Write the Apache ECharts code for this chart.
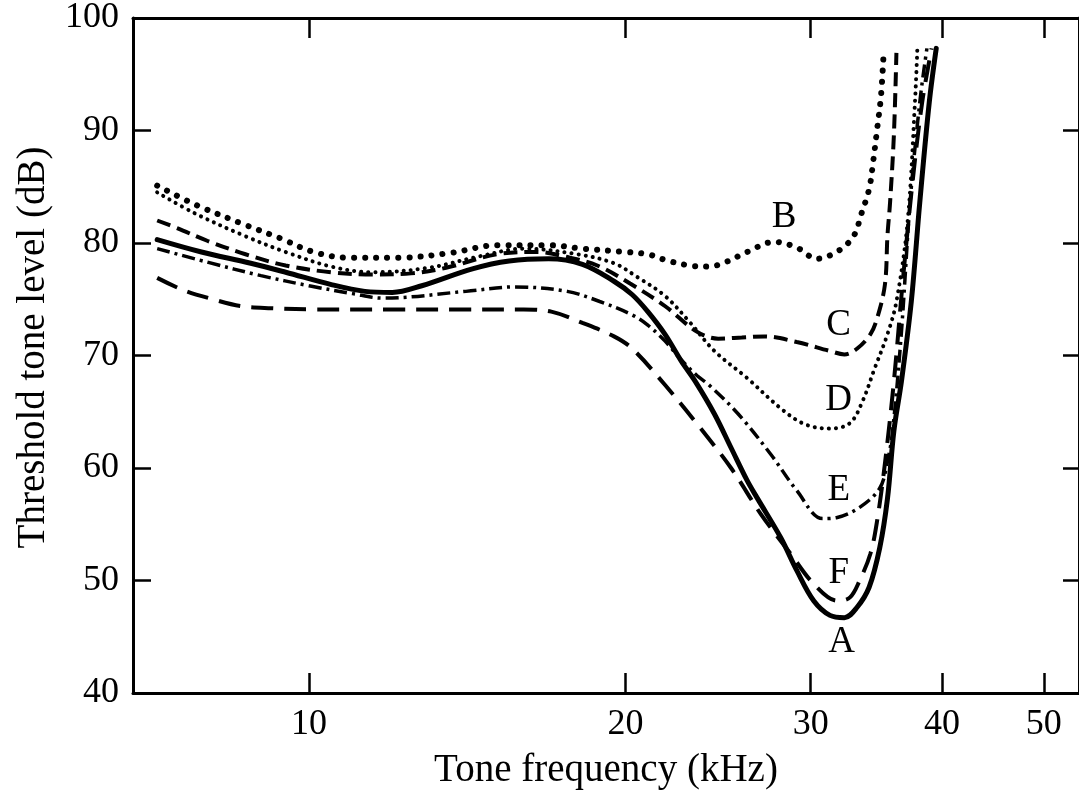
<!DOCTYPE html>
<html>
<head>
<meta charset="utf-8">
<script src="https://cdn.jsdelivr.net/npm/echarts@6/dist/echarts.min.js"></script>
<style>
html,body{margin:0;padding:0;background:#fff;}
#chart{width:1079px;height:798px;}
</style>
</head>
<body>
<div id="chart"></div>
<script>
// Tick labels
var xTicks = [10, 20, 30, 40, 50];
var yTicks = [40, 50, 60, 70, 80, 90, 100];

// Curves: [frequency kHz, threshold dB]
var curveA = [[7.17,80.3],[7.9,79.2],[8.8,78.2],[9.5,77.4],[10.5,76.3],[11.3,75.7],[12.0,75.6],[12.8,76.2],[14.3,77.7],[15.5,78.4],[16.9,78.6],[18.2,78.1],[19.5,76.6],[20.3,75.4],[21.0,73.9],[21.8,71.9],[22.6,69.5],[23.3,67.7],[24.3,64.8],[25.2,61.8],[26.1,58.9],[26.7,57.3],[28.1,53.8],[29.1,50.9],[30.2,48.2],[31.3,46.9],[32.3,46.7],[33.2,47.6],[34.1,49.4],[34.9,52.9],[35.5,57.3],[36.0,63.3],[36.6,67.7],[37.4,74.8],[38.1,83.6],[38.9,92.5],[39.5,97.3]];
var curveB = [[7.17,85.1],[7.8,83.4],[8.7,81.6],[9.4,80.4],[10.1,79.2],[10.9,78.7],[12.2,78.7],[13.6,79.1],[15.1,79.8],[16.9,79.8],[18.2,79.5],[20.0,79.2],[21.0,79.0],[21.8,78.5],[23.0,78.0],[24.0,77.9],[24.9,78.3],[26.1,79.2],[27.7,80.1],[29.1,79.6],[30.4,78.6],[32.0,79.4],[33.0,80.7],[33.5,82.5],[34.1,84.8],[34.4,87.2],[34.7,90.1],[35.0,93.1],[35.2,96.9]];
var curveC = [[7.17,82.0],[7.5,81.3],[8.0,80.2],[8.7,79.0],[9.5,78.0],[10.5,77.4],[11.5,77.2],[12.5,77.3],[13.5,77.8],[15.1,79.0],[16.5,79.2],[17.5,78.8],[18.8,78.0],[20.2,76.4],[21.8,74.4],[23.4,72.1],[24.5,71.5],[25.8,71.6],[27.1,71.7],[29.1,71.2],[31.3,70.4],[32.3,70.1],[33.2,70.6],[34.2,71.9],[34.7,73.3],[35.3,76.3],[35.5,80.7],[35.7,83.6],[36.0,89.6],[36.2,96.9]];
var curveD = [[7.17,84.5],[7.8,82.6],[8.7,80.6],[9.5,79.2],[10.5,77.9],[11.5,77.4],[13.0,77.8],[14.5,78.8],[16.0,79.5],[18.0,79.0],[19.5,78.2],[20.5,77.0],[21.8,75.3],[23.0,73.0],[24.3,70.4],[26.1,68.0],[28.1,65.3],[29.6,63.9],[31.3,63.5],[32.7,64.0],[33.6,65.9],[34.5,68.8],[35.5,71.9],[36.2,74.8],[37.1,81.9],[37.7,92.5],[37.9,97.3]];
var curveE = [[7.17,79.5],[8.0,78.3],[9.0,77.1],[10.0,76.2],[11.0,75.5],[11.75,75.1],[14.1,75.7],[15.7,76.1],[17.6,75.7],[18.9,74.8],[20.3,73.6],[21.0,72.7],[21.8,71.3],[22.6,69.6],[23.4,68.2],[24.0,67.4],[25.6,64.8],[27.5,61.2],[29.1,58.0],[30.8,55.5],[31.8,55.6],[33.4,56.5],[34.9,58.2],[35.5,60.6],[35.9,63.3],[36.6,72.1],[37.3,83.6],[38.1,92.5],[38.7,97.3]];
var curveF = [[7.17,76.9],[7.6,75.8],[8.1,75.0],[8.6,74.4],[9.2,74.2],[10.0,74.1],[12.0,74.1],[14.0,74.1],[16.0,74.1],[17.0,73.9],[18.2,72.9],[19.5,71.7],[20.3,70.6],[21.8,67.4],[23.4,63.9],[25.2,60.0],[26.9,55.9],[28.7,52.4],[30.2,49.7],[31.8,48.2],[32.7,48.5],[33.4,50.0],[34.2,52.4],[34.7,55.3],[35.3,60.4],[36.0,67.7],[36.7,76.5],[37.5,85.4],[38.3,92.5],[39.1,97.3]];

// Curve letters: [text, frequency, dB]
var curveLabels = [['B',28.3,82.3],['C',31.9,72.7],['D',31.9,66.0],['E',31.9,58.0],['F',31.9,50.6],['A',32.1,44.5]];

var FONT = '"Liberation Serif", "DejaVu Serif", serif';
var INK = '#000';

function lineSeries(data, style) {
  return {
    type: 'line',
    data: data,
    smooth: 0.35,
    showSymbol: false,
    symbol: 'none',
    clip: true,
    lineStyle: Object.assign({color: INK, opacity: 1}, style),
    z: 3
  };
}

var chart = echarts.init(document.getElementById('chart'), null, {renderer: 'canvas'});
var option = {
  backgroundColor: '#fff',
  animation: false,
  grid: {left: 133, top: 15, width: 948, height: 678, containLabel: false},
  xAxis: [{
    type: 'log', logBase: 10, min: 6.8, max: 54,
    name: 'Tone frequency (kHz)', nameLocation: 'middle', nameGap: 58,
    nameTextStyle: {fontFamily: FONT, fontSize: 39, color: INK},
    axisLine: {show: true, onZero: false, lineStyle: {color: INK, width: 3}},
    axisTick: {show: true, inside: true, length: 20, lineStyle: {color: INK, width: 2.5}, customValues: xTicks},
    axisLabel: {show: true, fontFamily: FONT, fontSize: 36, color: INK, margin: 14, customValues: xTicks, formatter: function (v) { return String(Math.round(v)); }},
    minorTick: {show: false},
    splitLine: {show: false}
  }, {
    type: 'log', logBase: 10, min: 6.8, max: 54, position: 'top',
    axisLine: {show: true, onZero: false, lineStyle: {color: INK, width: 3}},
    axisTick: {show: true, inside: true, length: 20, lineStyle: {color: INK, width: 2.5}, customValues: xTicks},
    axisLabel: {show: false},
    splitLine: {show: false}
  }],
  yAxis: [{
    type: 'value', min: 40, max: 100, interval: 10,
    name: 'Threshold tone level (dB)', nameLocation: 'middle', nameGap: 80, nameRotate: 90,
    nameTextStyle: {fontFamily: FONT, fontSize: 39, color: INK, padding: [0, 0, 0, 16]},
    axisLine: {show: true, onZero: false, lineStyle: {color: INK, width: 3}},
    axisTick: {show: true, inside: true, length: 18, lineStyle: {color: INK, width: 2.5}},
    axisLabel: {show: true, fontFamily: FONT, fontSize: 36, color: INK, margin: 14},
    splitLine: {show: false}
  }, {
    type: 'value', min: 40, max: 100, interval: 10, position: 'right',
    axisLine: {show: true, onZero: false, lineStyle: {color: INK, width: 3}},
    axisTick: {show: true, inside: true, length: 16, lineStyle: {color: INK, width: 2.5}},
    axisLabel: {show: false},
    splitLine: {show: false}
  }],
  series: [
    lineSeries(curveF, {width: 4, type: [22, 11], cap: 'butt'}),
    lineSeries(curveE, {width: 3.5, type: [13, 5, 3, 5], cap: 'butt'}),
    lineSeries(curveD, {width: 4, type: [0.1, 7], cap: 'round'}),
    lineSeries(curveC, {width: 4, type: [14, 7], cap: 'butt'}),
    lineSeries(curveB, {width: 6, type: [0.1, 11], cap: 'round'}),
    lineSeries(curveA, {width: 5, type: 'solid', cap: 'round'}),
    {
      type: 'scatter',
      data: curveLabels.map(function (d) { return {value: [d[1], d[2]], name: d[0]}; }),
      symbolSize: 1,
      silent: true,
      z: 5,
      itemStyle: {opacity: 0},
      label: {
        show: true, position: 'inside', opacity: 1,
        formatter: function (p) { return p.name; },
        fontFamily: FONT, fontSize: 37, color: INK
      }
    }
  ]
};
chart.setOption(option);
</script>
</body>
</html>
